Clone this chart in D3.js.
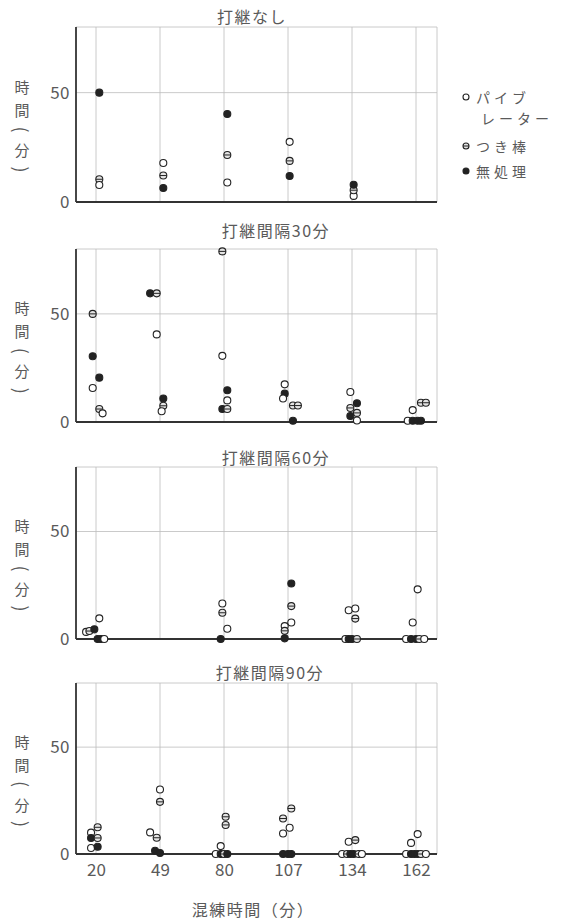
<!DOCTYPE html>
<html>
<head>
<meta charset="utf-8">
<script src="https://cdn.jsdelivr.net/npm/d3@7"></script>
<style>
  html, body { margin: 0; padding: 0; background: #fff; }
  svg { display: block; font-family: "Noto Sans CJK JP", "Noto Sans", sans-serif; }
</style>
</head>
<body>
<svg id="chart" width="564" height="922"></svg>
<script>
// ---- data -------------------------------------------------------------
const mixTimes = ["20", "49", "80", "107", "134", "162"];
const yTicks = [0, 50];
const panelTitles = ["打継なし", "打継間隔30分", "打継間隔60分", "打継間隔90分"];
const methodKeys = ["vib", "rod", "none"];
const legendLines = [["パイブ", "レーター"], ["つき棒"], ["無処理"]];
const xTitle = "混練時間（分）";
// vertical axis title, one glyph per row; brackets are turned to lie flat
const yTitleChars = ["時", "間", "(", "分", ")"];

// rows: [mixing time, method, minutes, dodge lane]
const noJoint = [
  ["20", "none", 50, 1], ["20", "rod", 10.4, 1], ["20", "vib", 7.8, 1],
  ["49", "vib", 17.8, 1], ["49", "rod", 12.1, 1], ["49", "none", 6.4, 1],
  ["80", "none", 40.2, 1], ["80", "rod", 21.5, 1], ["80", "vib", 8.9, 1],
  ["107", "vib", 27.5, 0.5], ["107", "rod", 18.8, 0.5], ["107", "none", 11.9, 0.5],
  ["134", "vib", 2.8, 0.5], ["134", "rod", 5.4, 0.5], ["134", "none", 7.9, 0.5]
];

const interval30 = [
  ["20", "rod", 50, -1], ["20", "none", 30.4, -1], ["20", "none", 20.5, 1],
  ["20", "vib", 15.7, -1], ["20", "rod", 6, 1], ["20", "vib", 4, 2],
  ["49", "none", 59.5, -3], ["49", "rod", 59.5, -1], ["49", "vib", 40.5, -1],
  ["49", "none", 10.9, 1], ["49", "rod", 7.5, 1], ["49", "vib", 5, 0.5],
  ["80", "rod", 78.9, -0.5], ["80", "vib", 30.6, -0.5], ["80", "none", 14.7, 1],
  ["80", "vib", 10, 1], ["80", "none", 6, -0.5], ["80", "rod", 6, 1],
  ["107", "vib", 17.4, -1], ["107", "none", 13.1, -1], ["107", "vib", 10.9, -1.5],
  ["107", "rod", 7.6, 1.5], ["107", "rod", 7.6, 3], ["107", "none", 0.6, 1.5],
  ["134", "vib", 13.9, -0.5], ["134", "none", 8.7, 1.5], ["134", "rod", 6.5, -0.5],
  ["134", "rod", 4.2, 1.5], ["134", "none", 2.8, -0.5], ["134", "vib", 0.7, 1.5],
  ["162", "rod", 8.9, 1.5], ["162", "rod", 8.9, 3], ["162", "vib", 5.5, -1],
  ["162", "vib", 0.6, -2.5], ["162", "none", 0.6, -1], ["162", "none", 0.6, 0.5],
  ["162", "none", 0.6, 1.5]
];

const interval60 = [
  ["20", "vib", 3.3, -3], ["20", "rod", 3.7, -2], ["20", "none", 4.5, -0.5],
  ["20", "vib", 9.6, 1], ["20", "none", 0, 0.5], ["20", "none", 0, 1.5], ["20", "vib", 0, 2.5],
  ["80", "vib", 16.5, -0.5], ["80", "rod", 12.2, -0.5], ["80", "vib", 4.8, 1], ["80", "none", 0, -1],
  ["107", "none", 25.8, 1], ["107", "rod", 15.3, 1], ["107", "vib", 7.7, 1],
  ["107", "vib", 6, -1], ["107", "rod", 3.8, -1], ["107", "none", 0.3, -1],
  ["134", "vib", 13.4, -1], ["134", "vib", 14.2, 1], ["134", "rod", 9.5, 1],
  ["134", "vib", 0, -2], ["134", "none", 0, -1], ["134", "none", 0, 0], ["134", "rod", 0, 1.5],
  ["162", "vib", 23.1, 0.5], ["162", "vib", 7.7, -1], ["162", "vib", 0, -3],
  ["162", "none", 0, -1.5], ["162", "none", 0, 0], ["162", "rod", 0, 1], ["162", "vib", 0, 2.5]
];

const interval90 = [
  ["20", "rod", 12.5, 0.5], ["20", "vib", 10, -1.5], ["20", "none", 7.5, -1.5],
  ["20", "rod", 7.5, 0.5], ["20", "vib", 2.8, -1.5], ["20", "none", 3.4, 0.5],
  ["49", "vib", 30.2, 0], ["49", "rod", 24.4, 0], ["49", "vib", 10.1, -3],
  ["49", "rod", 7.6, -1], ["49", "none", 1.5, -1.5], ["49", "none", 0.5, 0],
  ["80", "rod", 17.4, 0.5], ["80", "rod", 13.6, 0.5], ["80", "vib", 3.7, -1],
  ["80", "vib", 0, -2.5], ["80", "none", 0, -1], ["80", "rod", 0, 0], ["80", "none", 0, 1],
  ["107", "rod", 21.3, 1], ["107", "rod", 16.6, -1.5], ["107", "vib", 12.3, 0.5],
  ["107", "vib", 9.6, -1.5], ["107", "none", 0, -1.5], ["107", "none", 0, 0], ["107", "none", 0, 1],
  ["134", "vib", 5.7, -1], ["134", "rod", 6.5, 1], ["134", "vib", 0, -3], ["134", "rod", 0, -1.5],
  ["134", "none", 0, -0.5], ["134", "none", 0, 0.5], ["134", "rod", 0, 2], ["134", "vib", 0, 3],
  ["162", "vib", 5.2, -1.5], ["162", "vib", 9.3, 0.5], ["162", "vib", 0, -3],
  ["162", "none", 0, -1.5], ["162", "none", 0, -0.5], ["162", "none", 0, 0.5],
  ["162", "rod", 0, 1.5], ["162", "vib", 0, 3]
];

// ---- layout -----------------------------------------------------------
const svg = d3.select("#chart");
const plotLeft = 76, plotRight = 437;
const laneStep = 3.3, markR = 3.5;
const ink = "#222", textInk = "#5a5a5a", gridInk = "#bcbcbc";

const panels = [
  { rows: noJoint,    top: 27,  bottom: 202, titleX: 252, titleY: 16 },
  { rows: interval30, top: 249, bottom: 422, titleX: 276, titleY: 230 },
  { rows: interval60, top: 467, bottom: 639, titleX: 276, titleY: 457 },
  { rows: interval90, top: 683, bottom: 854, titleX: 270, titleY: 672 }
];

const x = d3.scalePoint().domain(mixTimes).range([96, 416]);

function drawMarker(sel, method, r) {
  sel.append("circle")
    .attr("r", r)
    .attr("fill", method === "none" ? ink : (method === "rod" ? "#e4e4e4" : "#fff"))
    .attr("stroke", ink)
    .attr("stroke-width", 1.1);
  if (method === "rod") {
    sel.append("line")
      .attr("x1", -r).attr("x2", r)
      .attr("stroke", ink).attr("stroke-width", 1);
  }
}

panels.forEach((p, i) => {
  const y = d3.scaleLinear().domain([0, 80]).range([p.bottom, p.top]);
  const g = svg.append("g");

  // light frame and grid
  g.selectAll("line.vgrid").data(mixTimes).join("line")
    .attr("class", "vgrid")
    .attr("x1", d => x(d)).attr("x2", d => x(d))
    .attr("y1", y(80)).attr("y2", y(0))
    .attr("stroke", gridInk).attr("stroke-width", 0.8);
  g.selectAll("line.hgrid").data([50, 80]).join("line")
    .attr("class", "hgrid")
    .attr("x1", plotLeft).attr("x2", plotRight)
    .attr("y1", d => y(d)).attr("y2", d => y(d))
    .attr("stroke", gridInk).attr("stroke-width", 0.8);
  g.append("line")
    .attr("x1", plotRight).attr("x2", plotRight)
    .attr("y1", y(80)).attr("y2", y(0))
    .attr("stroke", gridInk).attr("stroke-width", 0.8);

  // y axis labels
  const yAxis = d3.axisLeft(y).tickValues(yTicks).tickSize(0).tickPadding(6);
  const ya = g.append("g").attr("transform", `translate(${plotLeft},0)`).call(yAxis);
  ya.select(".domain").remove();
  ya.attr("font-family", null).attr("font-size", null);
  ya.selectAll("text").attr("font-size", 17).attr("fill", textInk).attr("letter-spacing", 0.5);

  // dark axis lines
  g.append("line")
    .attr("x1", plotLeft).attr("x2", plotLeft)
    .attr("y1", y(80)).attr("y2", y(0))
    .attr("stroke", "#333").attr("stroke-width", 1.8);
  g.append("line")
    .attr("x1", plotLeft).attr("x2", plotRight)
    .attr("y1", y(0)).attr("y2", y(0))
    .attr("stroke", "#333").attr("stroke-width", 2);

  // panel title
  g.append("text")
    .attr("x", p.titleX).attr("y", p.titleY)
    .attr("text-anchor", "middle").attr("dominant-baseline", "central")
    .attr("font-size", 16).attr("letter-spacing", 1.5).attr("fill", textInk)
    .text(panelTitles[i]);

  // vertical y-axis title
  const y50 = y(50);
  const offsets = [-6, 17, 37, 57, 77];
  const isBracket = d => d === "(" || d === ")";
  g.selectAll("text.ytitle").data(yTitleChars).join("text")
    .attr("class", "ytitle")
    .attr("x", 22).attr("y", (d, k) => y50 + offsets[k])
    .attr("text-anchor", "middle").attr("dominant-baseline", "central")
    .attr("font-size", d => isBracket(d) ? 18 : 15).attr("fill", textInk)
    .attr("transform", (d, k) => isBracket(d) ? `rotate(90,22,${y50 + offsets[k]})` : null)
    .text(d => d);

  // observations
  const pts = g.selectAll("g.pt").data(p.rows).join("g")
    .attr("class", "pt")
    .attr("transform", d => `translate(${x(d[0]) + d[3] * laneStep},${y(d[2])})`);
  pts.each(function(d) { drawMarker(d3.select(this), d[1], markR); });

  // bottom tick labels on the last panel
  if (i === panels.length - 1) {
    const xAxis = d3.axisBottom(x).tickSize(0).tickPadding(10);
    const xa = g.append("g").attr("transform", `translate(0,${y(0)})`).call(xAxis);
    xa.select(".domain").remove();
    xa.attr("font-family", null).attr("font-size", null);
    xa.selectAll("text").attr("font-size", 17).attr("fill", textInk);
    g.append("text")
      .attr("x", 253).attr("y", 909)
      .attr("text-anchor", "middle").attr("dominant-baseline", "central")
      .attr("font-size", 16).attr("letter-spacing", 1.5).attr("fill", textInk)
      .text(xTitle);
  }
});

// legend beside the first panel
const legendRows = [
  { key: methodKeys[0], y: 97 },
  { key: methodKeys[1], y: 146 },
  { key: methodKeys[2], y: 171 }
];
const legend = svg.append("g");
legendRows.forEach((row, k) => {
  const m = legend.append("g").attr("transform", `translate(466,${row.y})`);
  drawMarker(m, row.key, 3);
  legendLines[k].forEach((line, j) => {
    legend.append("text")
      .attr("x", j === 0 ? 476 : 481).attr("y", row.y + j * 21)
      .attr("dominant-baseline", "central")
      .attr("font-size", 14).attr("letter-spacing", 4).attr("fill", textInk)
      .text(line);
  });
});
</script>
</body>
</html>
